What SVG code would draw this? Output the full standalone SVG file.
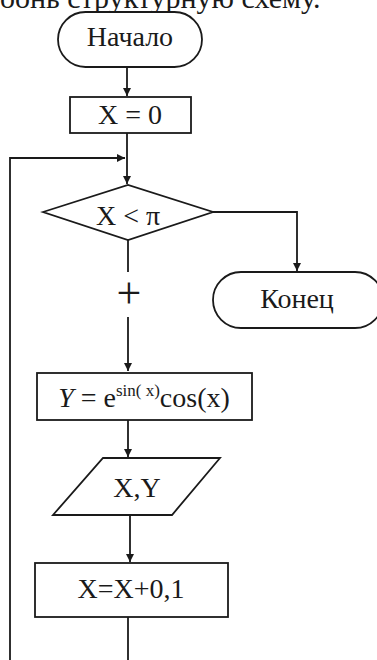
<svg xmlns="http://www.w3.org/2000/svg" width="377" height="660" viewBox="0 0 377 660">
<style>
.s{fill:none;stroke:#1a1a1a;stroke-width:1.8}
.b{fill:#fff;stroke:#1a1a1a;stroke-width:1.8}
.t{font-family:"Liberation Serif","Times New Roman",serif;font-size:28px;fill:#1a1a1a;text-anchor:middle}
</style>
<defs>
<marker id="a" viewBox="0 0 10 10" refX="10" refY="5" markerWidth="8" markerHeight="10" markerUnits="userSpaceOnUse" orient="auto">
<path d="M0,0 L10,5 L0,10 z" fill="#1a1a1a"/>
</marker>
</defs>
<rect width="377" height="660" fill="#fff"/>
<text x="0" y="8" font-family="Liberation Serif, serif" font-size="30" fill="#1a1a1a">оонь структурную схему.</text>
<g id="connectors">
<line class="s" x1="127" y1="67" x2="127" y2="96" marker-end="url(#a)"/>
<line class="s" x1="127" y1="133" x2="127" y2="184" marker-end="url(#a)"/>
<polyline class="s" points="10,660 10,158 125,158" marker-end="url(#a)"/>
<polyline class="s" points="213,212 297,212 297,271" marker-end="url(#a)"/>
<line class="s" x1="128" y1="240" x2="128" y2="272"/>
<line class="s" x1="128" y1="317" x2="128" y2="371" marker-end="url(#a)"/>
<text x="129" y="308" class="t" style="font-size:44px">+</text>
<line class="s" x1="128" y1="420" x2="128" y2="457" marker-end="url(#a)"/>
<line class="s" x1="130" y1="515" x2="130" y2="562" marker-end="url(#a)"/>
<line class="s" x1="128" y1="617" x2="128" y2="660"/>
</g>
<g id="start">
<rect class="b" x="58" y="12" width="144" height="55" rx="27.5"/>
<text class="t" x="130" y="46">Начало</text>
</g>
<g id="init">
<rect class="b" x="70" y="97" width="121" height="36"/>
<text class="t" x="130" y="124">X = 0</text>
</g>
<g id="cond">
<polygon class="b" points="43,212 128,185 213,212 128,240"/>
<text class="t" x="128" y="225">X &lt; π</text>
</g>
<g id="end">
<rect class="b" x="213" y="272" width="170" height="56" rx="28"/>
<text class="t" x="297" y="308">Конец</text>
</g>
<g id="calc">
<rect class="b" x="37" y="373" width="215" height="47"/>
<text class="t" x="144" y="407"><tspan font-style="italic">Y</tspan> = e<tspan font-size="17" dy="-11">sin( x)</tspan><tspan dy="11">cos(x)</tspan></text>
</g>
<g id="output">
<polygon class="b" points="103,458 220,458 172,515 53,515"/>
<text class="t" x="137" y="497">X,Y</text>
</g>
<g id="step">
<rect class="b" x="35" y="563" width="193" height="54"/>
<text class="t" x="131" y="598">X=X+0,1</text>
</g>
</svg>
